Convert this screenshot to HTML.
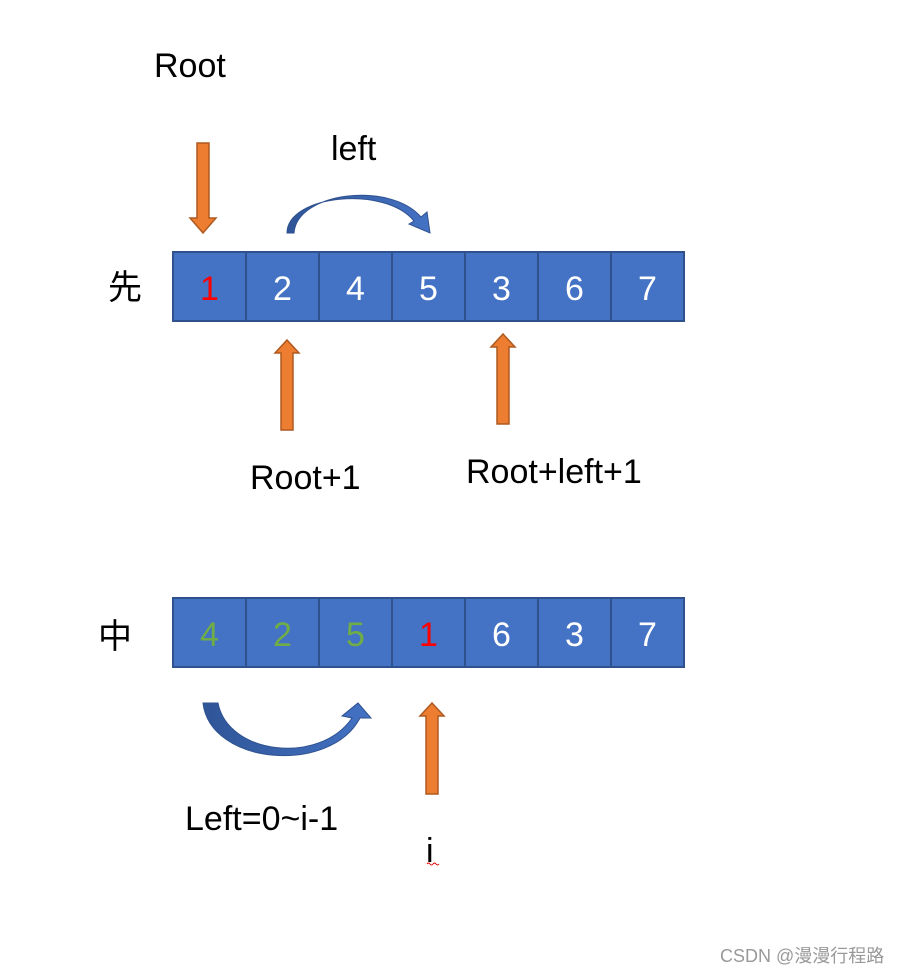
<!DOCTYPE html>
<html><head><meta charset="utf-8"><style>
html,body{margin:0;padding:0;background:#fff;}
svg{display:block;}
text{font-family:"Liberation Sans","Noto Sans CJK SC",sans-serif;}
</style></head><body>
<svg width="907" height="974" viewBox="0 0 907 974" xmlns="http://www.w3.org/2000/svg">
<defs>
<linearGradient id="bg" x1="0" y1="0" x2="1" y2="0"><stop offset="0" stop-color="#2f5597"/><stop offset="1" stop-color="#4472c4"/></linearGradient>
</defs>
<!-- top row -->
<g stroke="#2f528f" stroke-width="2" fill="#4472c4">
<rect x="173" y="252" width="73" height="69"/><rect x="246" y="252" width="73" height="69"/><rect x="319" y="252" width="73" height="69"/><rect x="392" y="252" width="73" height="69"/><rect x="465" y="252" width="73" height="69"/><rect x="538" y="252" width="73" height="69"/><rect x="611" y="252" width="73" height="69"/>
<rect x="173" y="598" width="73" height="69"/><rect x="246" y="598" width="73" height="69"/><rect x="319" y="598" width="73" height="69"/><rect x="392" y="598" width="73" height="69"/><rect x="465" y="598" width="73" height="69"/><rect x="538" y="598" width="73" height="69"/><rect x="611" y="598" width="73" height="69"/>
</g>
<g font-size="34" text-anchor="middle" fill="#fff">
<text x="209.5" y="300" fill="#ff0000">1</text><text x="282.5" y="300">2</text><text x="355.5" y="300">4</text><text x="428.5" y="300">5</text><text x="501.5" y="300">3</text><text x="574.5" y="300">6</text><text x="647.5" y="300">7</text>
<text x="209.5" y="646" fill="#70ad47">4</text><text x="282.5" y="646" fill="#70ad47">2</text><text x="355.5" y="646" fill="#70ad47">5</text><text x="428.5" y="646" fill="#ff0000">1</text><text x="501.5" y="646">6</text><text x="574.5" y="646">3</text><text x="647.5" y="646">7</text>
</g>
<!-- orange arrows -->
<g fill="#ed7d31" stroke="#ae5a21" stroke-width="1.5">
<polygon points="197,143 209,143 209,218 216,218 203,233 190,218 197,218"/>
<polygon points="281,430 293,430 293,353 299,353 287,340 275,353 281,353"/>
<polygon points="497,424 509,424 509,347 515,347 503,334 491,347 497,347"/>
<polygon points="426,794 438,794 438,716 444,716 432,703 420,716 426,716"/>
</g>
<!-- blue curved arrows -->
<path d="M287,233 C287,195 385,185 414,221 L409,224 L430,233 L427,212 L421,217 C390,181 297,192 294,233 Z" fill="url(#bg)" stroke="#2f528f" stroke-width="1"/>
<path d="M203,703 L218,703 C228,755 320,765 352,718 L342,716 L358,703 L371,718 L360,718 C330,775 210,765 203,703 Z" fill="url(#bg)" stroke="#2f528f" stroke-width="1"/>
<!-- labels -->
<g font-size="34" fill="#000">
<text x="154" y="77">Root</text>
<text x="331" y="160">left</text>
<text x="250" y="489">Root+1</text>
<text x="466" y="483">Root+left+1</text>
<text x="185" y="830">Left=0~i-1</text>
<text x="426" y="862">i</text>
<text x="108" y="299" font-size="34">先</text>
<text x="98" y="648" font-size="34">中</text>
</g>
<path d="M427,864 q1.5,-2 3,0 t3,0 t3,0 t3,0" stroke="#e00" stroke-width="1" fill="none"/>
<text x="720" y="962" font-size="18" fill="#999">CSDN @漫漫行程路</text>
</svg>
</body></html>
